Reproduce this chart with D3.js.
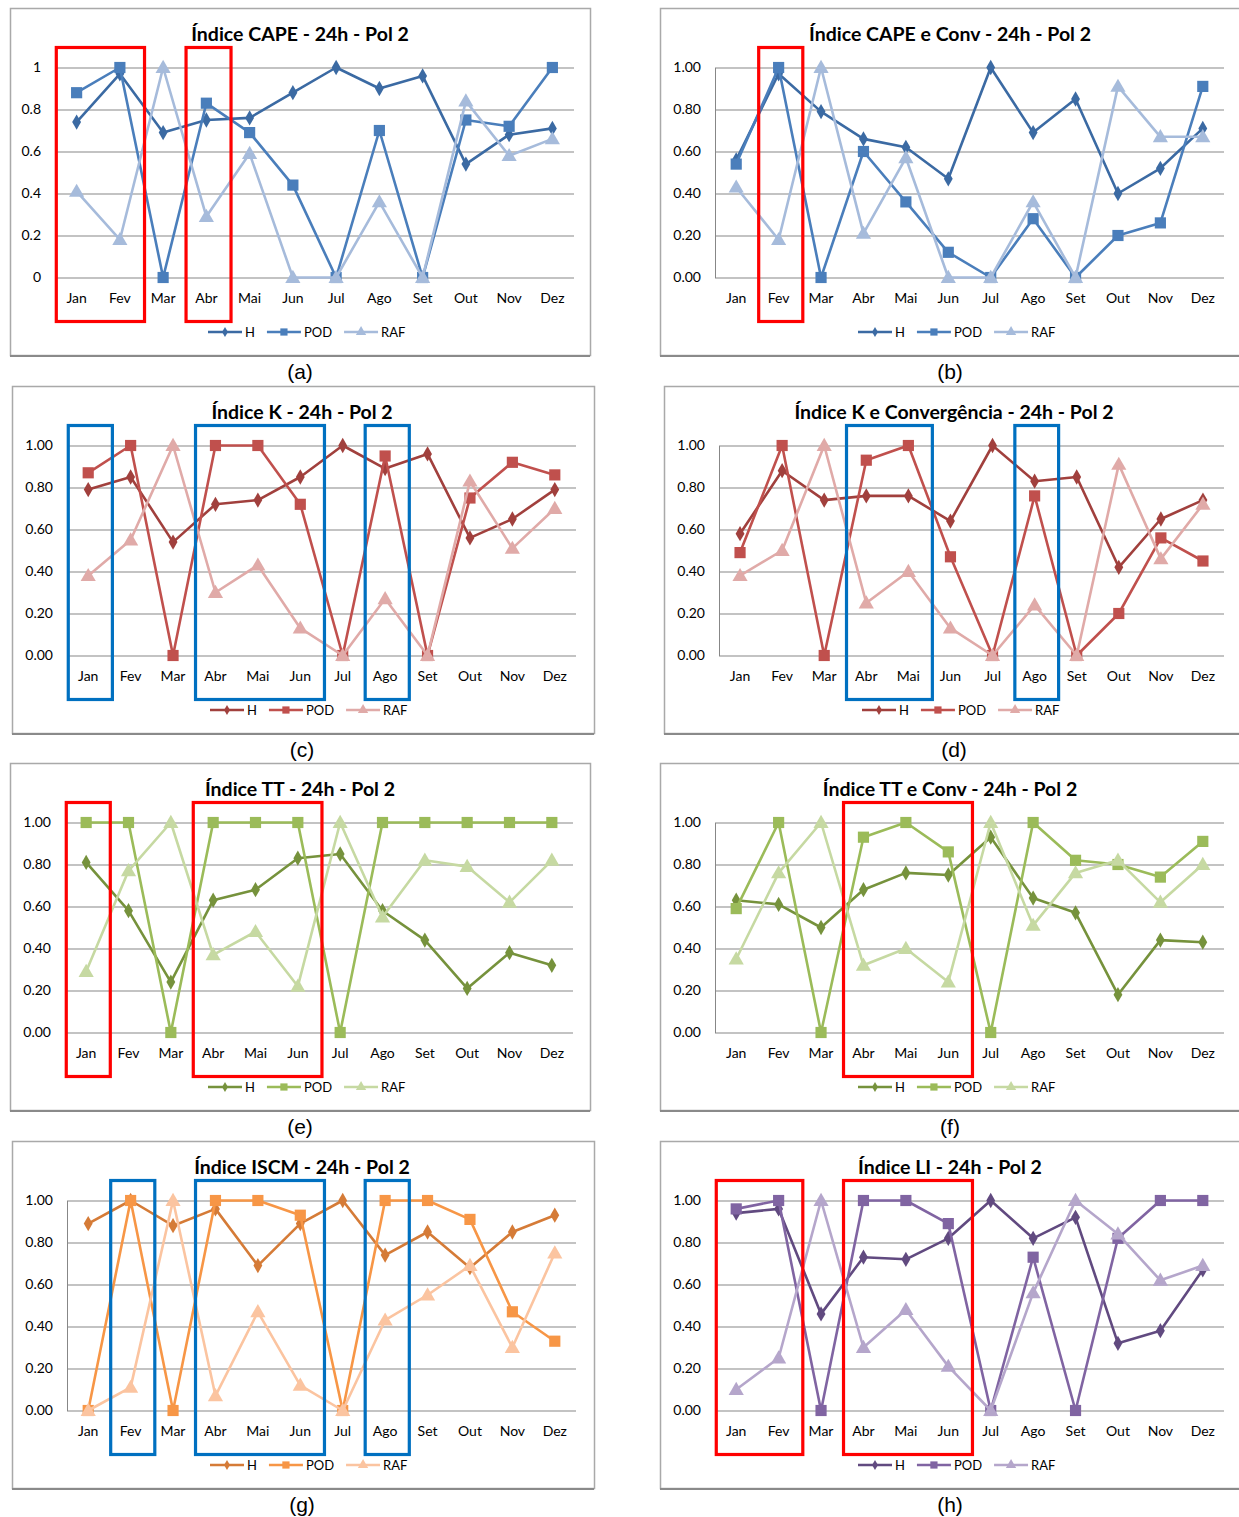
<!DOCTYPE html>
<html>
<head>
<meta charset="utf-8">
<script src="https://cdn.jsdelivr.net/npm/d3@7"></script>
<style>
  body { margin: 0; background: #fff; }
  svg { display: block; }
</style>
</head>
<body>
<script>
// Monthly verification scores (H, POD, RAF) for each instability index, 24h forecast, Pol 2
const months = ["Jan", "Fev", "Mar", "Abr", "Mai", "Jun", "Jul", "Ago", "Set", "Out", "Nov", "Dez"];
const seriesNames = ["H", "POD", "RAF"];
const yTicks = [0, 0.2, 0.4, 0.6, 0.8, 1];

// (a) CAPE
const capeH   = [0.74, 0.97, 0.69, 0.75, 0.76, 0.88, 1.00, 0.90, 0.96, 0.54, 0.68, 0.71];
const capePOD = [0.88, 1.00, 0.00, 0.83, 0.69, 0.44, 0.00, 0.70, 0.00, 0.75, 0.72, 1.00];
const capeRAF = [0.41, 0.18, 1.00, 0.29, 0.59, 0.00, 0.00, 0.36, 0.00, 0.84, 0.58, 0.66];

// (b) CAPE e Conv
const capeConvH   = [0.56, 0.97, 0.79, 0.66, 0.62, 0.47, 1.00, 0.69, 0.85, 0.40, 0.52, 0.71];
const capeConvPOD = [0.54, 1.00, 0.00, 0.60, 0.36, 0.12, 0.00, 0.28, 0.00, 0.20, 0.26, 0.91];
const capeConvRAF = [0.43, 0.18, 1.00, 0.21, 0.57, 0.00, 0.00, 0.36, 0.00, 0.91, 0.67, 0.67];

// (c) K
const kH   = [0.79, 0.85, 0.54, 0.72, 0.74, 0.85, 1.00, 0.89, 0.96, 0.56, 0.65, 0.79];
const kPOD = [0.87, 1.00, 0.00, 1.00, 1.00, 0.72, 0.00, 0.95, 0.00, 0.75, 0.92, 0.86];
const kRAF = [0.38, 0.55, 1.00, 0.30, 0.43, 0.13, 0.00, 0.27, 0.00, 0.83, 0.51, 0.70];

// (d) K e Convergência
const kConvH   = [0.58, 0.88, 0.74, 0.76, 0.76, 0.64, 1.00, 0.83, 0.85, 0.42, 0.65, 0.74];
const kConvPOD = [0.49, 1.00, 0.00, 0.93, 1.00, 0.47, 0.00, 0.76, 0.00, 0.20, 0.56, 0.45];
const kConvRAF = [0.38, 0.50, 1.00, 0.25, 0.40, 0.13, 0.00, 0.24, 0.00, 0.91, 0.46, 0.72];

// (e) TT
const ttH   = [0.81, 0.58, 0.24, 0.63, 0.68, 0.83, 0.85, 0.58, 0.44, 0.21, 0.38, 0.32];
const ttPOD = [1.00, 1.00, 0.00, 1.00, 1.00, 1.00, 0.00, 1.00, 1.00, 1.00, 1.00, 1.00];
const ttRAF = [0.29, 0.77, 1.00, 0.37, 0.48, 0.22, 1.00, 0.55, 0.82, 0.79, 0.62, 0.82];

// (f) TT e Conv
const ttConvH   = [0.63, 0.61, 0.50, 0.68, 0.76, 0.75, 0.93, 0.64, 0.57, 0.18, 0.44, 0.43];
const ttConvPOD = [0.59, 1.00, 0.00, 0.93, 1.00, 0.86, 0.00, 1.00, 0.82, 0.80, 0.74, 0.91];
const ttConvRAF = [0.35, 0.76, 1.00, 0.32, 0.40, 0.24, 1.00, 0.51, 0.76, 0.82, 0.62, 0.80];

// (g) ISCM
const iscmH   = [0.89, 1.00, 0.88, 0.96, 0.69, 0.89, 1.00, 0.74, 0.85, 0.68, 0.85, 0.93];
const iscmPOD = [0.00, 1.00, 0.00, 1.00, 1.00, 0.93, 0.00, 1.00, 1.00, 0.91, 0.47, 0.33];
const iscmRAF = [0.00, 0.11, 1.00, 0.07, 0.47, 0.12, 0.00, 0.43, 0.55, 0.69, 0.30, 0.75];

// (h) LI
const liH   = [0.94, 0.96, 0.46, 0.73, 0.72, 0.82, 1.00, 0.82, 0.92, 0.32, 0.38, 0.67];
const liPOD = [0.96, 1.00, 0.00, 1.00, 1.00, 0.89, 0.00, 0.73, 0.00, 0.82, 1.00, 1.00];
const liRAF = [0.10, 0.25, 1.00, 0.30, 0.48, 0.21, 0.00, 0.56, 1.00, 0.84, 0.62, 0.69];

// Month ranges outlined in each chart
const capeBoxes     = [["Jan", "Fev"], ["Abr", "Abr"]];
const capeConvBoxes = [["Fev", "Fev"]];
const kBoxes        = [["Jan", "Jan"], ["Abr", "Jun"], ["Ago", "Ago"]];
const kConvBoxes    = [["Abr", "Mai"], ["Ago", "Ago"]];
const ttBoxes       = [["Jan", "Jan"], ["Abr", "Jun"]];
const ttConvBoxes   = [["Abr", "Jun"]];
const iscmBoxes     = [["Fev", "Fev"], ["Abr", "Jun"], ["Ago", "Ago"]];
const liBoxes       = [["Jan", "Fev"], ["Abr", "Jun"]];

// Colour families (H darker, POD base, RAF light)
const blues   = ["#3b6aa3", "#4a7ebb", "#a6bbdb"];
const reds    = ["#a1403d", "#c0504d", "#e0aaa8"];
const greens  = ["#76923c", "#9bbb59", "#c6d9a2"];
const oranges = ["#d57b37", "#f79646", "#fbc4a0"];
const purples = ["#614a80", "#8064a2", "#b5a6cb"];

const RED = "#ff0000", BLUE = "#0070c0";

const panels = [
  { title: "Índice CAPE - 24h - Pol 2", caption: "(a)", data: [capeH, capePOD, capeRAF], pal: blues, boxes: capeBoxes, boxColor: RED, fmt: d3.format(""), fx: 10, fy: 8, fw: 580, pl: 45, pr: 564 },
  { title: "Índice CAPE e Conv - 24h - Pol 2", caption: "(b)", data: [capeConvH, capeConvPOD, capeConvRAF], pal: blues, boxes: capeConvBoxes, boxColor: RED, fmt: d3.format(".2f"), fx: 660, fy: 8, fw: 600, pl: 55, pr: 564 },
  { title: "Índice K - 24h - Pol 2", caption: "(c)", data: [kH, kPOD, kRAF], pal: reds, boxes: kBoxes, boxColor: BLUE, fmt: d3.format(".2f"), fx: 12, fy: 386, fw: 582, pl: 55, pr: 564 },
  { title: "Índice K e Convergência - 24h - Pol 2", caption: "(d)", data: [kConvH, kConvPOD, kConvRAF], pal: reds, boxes: kConvBoxes, boxColor: BLUE, fmt: d3.format(".2f"), fx: 664, fy: 386, fw: 600, pl: 55, pr: 560 },
  { title: "Índice TT - 24h - Pol 2", caption: "(e)", data: [ttH, ttPOD, ttRAF], pal: greens, boxes: ttBoxes, boxColor: RED, fmt: d3.format(".2f"), fx: 10, fy: 763, fw: 580, pl: 55, pr: 563 },
  { title: "Índice TT e Conv - 24h - Pol 2", caption: "(f)", data: [ttConvH, ttConvPOD, ttConvRAF], pal: greens, boxes: ttConvBoxes, boxColor: RED, fmt: d3.format(".2f"), fx: 660, fy: 763, fw: 600, pl: 55, pr: 564 },
  { title: "Índice ISCM - 24h - Pol 2", caption: "(g)", data: [iscmH, iscmPOD, iscmRAF], pal: oranges, boxes: iscmBoxes, boxColor: BLUE, fmt: d3.format(".2f"), fx: 12, fy: 1141, fw: 582, pl: 55, pr: 564 },
  { title: "Índice LI - 24h - Pol 2", caption: "(h)", data: [liH, liPOD, liRAF], pal: purples, boxes: liBoxes, boxColor: RED, fmt: d3.format(".2f"), fx: 660, fy: 1141, fw: 600, pl: 55, pr: 564 }
];

const FONT = "Lato, 'Open Sans', 'DejaVu Sans', sans-serif";
const W = 1239, Hh = 1517;
const FRAME_H = 347, PLOT_TOP = 59.5, PLOT_BOTTOM = 269.5;

const svg = d3.select("body").append("svg").attr("width", W).attr("height", Hh);
svg.append("rect").attr("width", W).attr("height", Hh).attr("fill", "#fff");

const symbols = [d3.symbolDiamond, d3.symbolSquare, d3.symbolTriangle];
const symbolSizes = [68, 125, 100];
const legendSizes = [30, 52, 46];

panels.forEach(p => {
  const g = svg.append("g").attr("transform", `translate(${p.fx},${p.fy})`);

  // chart frame
  g.append("rect")
    .attr("x", 0.5).attr("y", 0.5)
    .attr("width", p.fw).attr("height", FRAME_H)
    .attr("fill", "#fff").attr("stroke", "#a9a9a9").attr("stroke-width", 1.5);
  g.append("line")
    .attr("x1", 0).attr("x2", p.fw).attr("y1", FRAME_H + 1).attr("y2", FRAME_H + 1)
    .attr("stroke", "#8a8a8a").attr("stroke-width", 2);

  const x = d3.scaleBand().domain(months).range([p.pl, p.pr]);
  const cx = m => x(m) + x.bandwidth() / 2;
  const y = d3.scaleLinear().domain([0, 1]).range([PLOT_BOTTOM, PLOT_TOP]);

  // title
  g.append("text")
    .attr("x", 290).attr("y", 33)
    .attr("text-anchor", "middle")
    .attr("font-family", FONT).attr("font-weight", "bold").attr("font-size", 19.5)
    .attr("fill", "#000")
    .text(p.title);

  // y axis with gridlines
  const yAxis = d3.axisLeft(y)
    .tickValues(yTicks)
    .tickFormat(p.fmt)
    .tickSize(-(p.pr - p.pl))
    .tickSizeOuter(0)
    .tickPadding(14);
  const ya = g.append("g").attr("transform", `translate(${p.pl},0)`).call(yAxis);
  ya.select(".domain").attr("stroke", "#878787").attr("stroke-width", 1);
  ya.selectAll(".tick line").attr("stroke", "#878787").attr("stroke-width", 1);
  ya.selectAll(".tick text")
    .attr("font-family", FONT).attr("font-size", 14).attr("fill", "#000");

  // x axis (month labels)
  const xAxis = d3.axisBottom(x).tickSize(0).tickPadding(16);
  const xa = g.append("g").attr("transform", `translate(0,${PLOT_BOTTOM})`).call(xAxis);
  xa.select(".domain").remove();
  xa.selectAll(".tick text")
    .attr("font-family", FONT).attr("font-size", 14).attr("fill", "#000");

  // series lines and markers
  p.data.forEach((vals, si) => {
    const line = d3.line().x((d, i) => cx(months[i])).y(d => y(d));
    g.append("path")
      .datum(vals)
      .attr("d", line)
      .attr("fill", "none")
      .attr("stroke", p.pal[si])
      .attr("stroke-width", 2.6)
      .attr("stroke-linejoin", "round");
    const sym = d3.symbol().type(symbols[si]).size(symbolSizes[si]);
    g.append("g").selectAll("path")
      .data(vals)
      .join("path")
      .attr("d", sym)
      .attr("transform", (d, i) => `translate(${cx(months[i])},${y(d) + (si === 2 ? 1 : 0)})`)
      .attr("fill", p.pal[si]);
  });

  // highlighted month ranges
  const step = x.step();
  p.boxes.forEach(([a, b]) => {
    const x0 = cx(a) - step * 0.47;
    const x1 = cx(b) + step * 0.57;
    g.append("rect")
      .attr("x", x0).attr("y", PLOT_TOP - 20)
      .attr("width", x1 - x0).attr("height", (PLOT_BOTTOM + 44) - (PLOT_TOP - 20))
      .attr("fill", "none")
      .attr("stroke", p.boxColor)
      .attr("stroke-width", 3.2);
  });

  // legend
  const lg = g.append("g").attr("transform", `translate(198,324)`);
  let lx = 0;
  seriesNames.forEach((name, si) => {
    const item = lg.append("g").attr("transform", `translate(${lx},0)`);
    item.append("line")
      .attr("x1", 0).attr("x2", 34).attr("y1", 0).attr("y2", 0)
      .attr("stroke", p.pal[si]).attr("stroke-width", 2.6);
    item.append("path")
      .attr("d", d3.symbol().type(symbols[si]).size(legendSizes[si]))
      .attr("transform", "translate(17,0)")
      .attr("fill", p.pal[si]);
    const t = item.append("text")
      .attr("x", 37).attr("y", 4.5)
      .attr("font-family", FONT).attr("font-size", 13).attr("fill", "#000")
      .text(name);
    lx += 37 + t.node().getComputedTextLength() + 12;
  });

  // caption under the frame
  g.append("text")
    .attr("x", 290).attr("y", 371)
    .attr("text-anchor", "middle")
    .attr("font-family", "'Liberation Sans', Arial, sans-serif").attr("font-size", 21)
    .attr("fill", "#000")
    .text(p.caption);
});
</script>
</body>
</html>
